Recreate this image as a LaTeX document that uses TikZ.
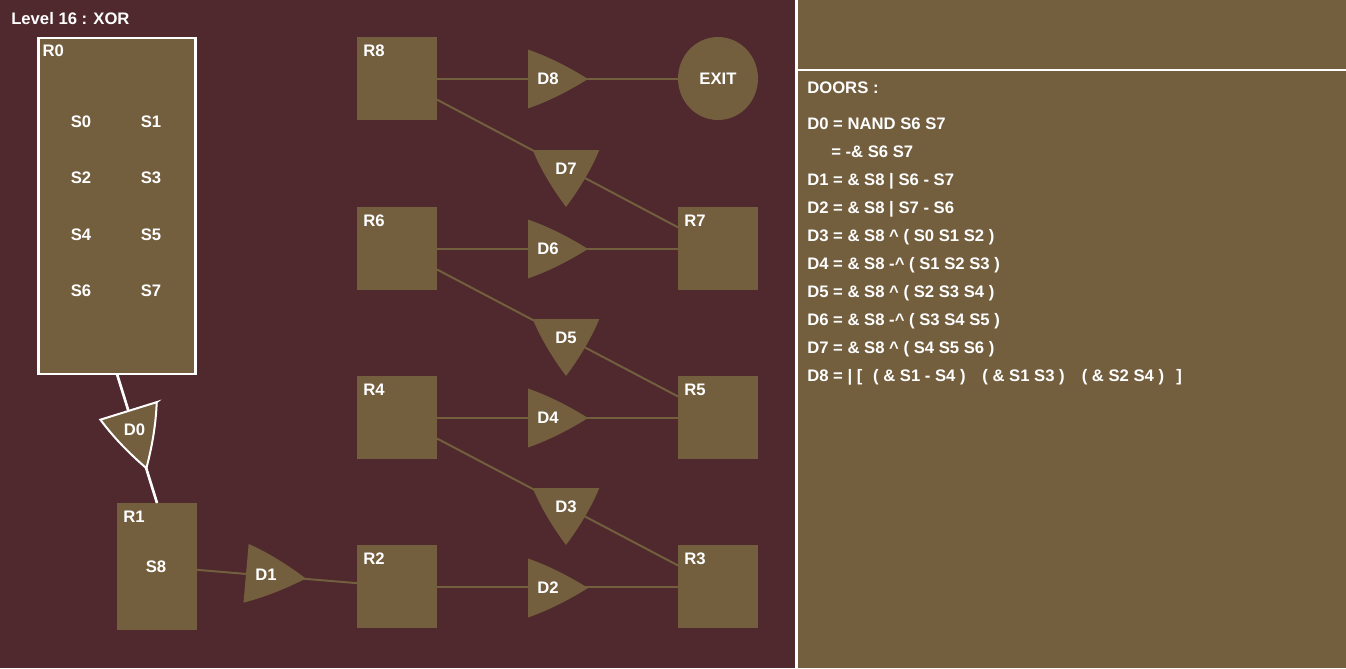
\documentclass[tikz,border=0pt]{standalone}
\usepackage{fontspec}
\setmainfont{Liberation Sans}
\usetikzlibrary{shapes.geometric,calc}
\definecolor{wallbg}{RGB}{79,41,45}
\definecolor{roombrown}{RGB}{115,94,62}
\tikzset{
room/.style={rectangle,fill=roombrown,minimum width=60pt,minimum height=62.25pt,inner sep=0pt,outer sep=0pt},
exitroom/.style={ellipse,fill=roombrown,minimum width=60pt,minimum height=62.25pt,inner sep=0pt},
roomlabel/.style={anchor=base west,inner sep=0pt},
doorlabel/.style={inner sep=0pt},
doorshape/.style={fill=roombrown},
wire/.style={roombrown,line width=1.5pt},
whitewire/.style={white,line width=2pt},
paneltext/.style={anchor=base west,inner sep=0pt},
pics/door/.style={code={
  \path[doorshape] (-20,-29.5) -- (-20,29.5)
    .. controls (0,22.5) and (20,12.5) .. (40,0)
    .. controls (20,-12.5) and (0,-22.5) .. cycle;
  \node[doorlabel] (-lbl) at (0,0) {#1};
}},
}
\tikzstyle{every node}=[font=\bfseries\fontsize{12.5}{15}\selectfont,text=white]

\begin{document}
\begin{tikzpicture}[x=0.75pt,y=-0.75pt]
    \useasboundingbox (0,0) rectangle (1346,668);
    % background and side panel
    \fill[wallbg] (0,0) rectangle (796,668);
    \fill[roombrown] (796,0) rectangle (1346,668);
    \draw[white,line width=2.25pt] (796,0) -- (796,668);
    \draw[white,line width=1.75pt] (796,70) -- (1346,70);

    \node[anchor=base west,inner sep=0pt] (title) at (11,24) {Level 16 : XOR};

    % rooms
    \node[room,draw=white,line width=2pt,minimum width=118pt,minimum height=252pt] (r0) at (117,206) {};
    \node[room,minimum height=95.25pt] (r1) at (157,566.5) {};
    \node[room] (r2) at (397,586.5) {};
    \node[room] (r3) at (718,586.5) {};
    \node[room] (r4) at (397,417.5) {};
    \node[room] (r5) at (718,417.5) {};
    \node[room] (r6) at (397,248.5) {};
    \node[room] (r7) at (718,248.5) {};
    \node[room] (r8) at (397,78.5) {};
    \node[exitroom] (exit) at (718,78.5) {EXIT};

    \node[roomlabel] (r0lbl) at ($(r0.north west)+(4,18)$) {R0};
    \node[roomlabel] (r1lbl) at ($(r1.north west)+(6,19)$) {R1};
    \node[roomlabel] (r2lbl) at ($(r2.north west)+(6,19)$) {R2};
    \node[roomlabel] (r3lbl) at ($(r3.north west)+(6,19)$) {R3};
    \node[roomlabel] (r4lbl) at ($(r4.north west)+(6,19)$) {R4};
    \node[roomlabel] (r5lbl) at ($(r5.north west)+(6,19)$) {R5};
    \node[roomlabel] (r6lbl) at ($(r6.north west)+(6,19)$) {R6};
    \node[roomlabel] (r7lbl) at ($(r7.north west)+(6,19)$) {R7};
    \node[roomlabel] (r8lbl) at ($(r8.north west)+(6,19)$) {R8};

    % switches
    \foreach \i/\px/\py in {0/81/122,1/151/122,2/81/178,3/151/178,4/81/235,5/151/235,6/81/291,7/151/291}
        \node (s\i) at (\px,\py) {S\i};
    \node (s8) at (156,567) {S8};

    % connections
    \draw[whitewire] (r0.south) -- (r1.north);
    \draw[wire] (r1) -- (r2);
    \draw[wire] (r2) -- (r3);
    \draw[wire] (r4) -- (r3);
    \draw[wire] (r4) -- (r5);
    \draw[wire] (r6) -- (r5);
    \draw[wire] (r6) -- (r7);
    \draw[wire] (r8) -- (r7);
    \draw[wire] (r8) -- (exit);

    % doors
    \pic[rotate=-72.7,doorshape/.append style={draw=white,line width=1.5pt}] (d0) at (134.5,430) {door=D0};
    \pic[rotate=-5] (d1) at (266,575) {door=D1};
    \pic (d2) at (548,588) {door=D2};
    \pic[rotate=-90,xscale=.95,yscale=1.13] (d3) at (566,507) {door=D3};
    \pic (d4) at (548,418) {door=D4};
    \pic[rotate=-90,xscale=.95,yscale=1.13] (d5) at (566,338) {door=D5};
    \pic (d6) at (548,249) {door=D6};
    \pic[rotate=-90,xscale=.95,yscale=1.13] (d7) at (566,169) {door=D7};
    \pic (d8) at (548,79) {door=D8};

    % door list
    \node[paneltext] (doors) at (807,93) {DOORS :};
    \node[paneltext] (def0) at (807,129) {D0 = NAND S6 S7};
    \node[paneltext] (alt0) at (831,157) {= -\& S6 S7};
    \node[paneltext] (def1) at (807,185) {D1 = \& S8 | S6 - S7};
    \node[paneltext] (def2) at (807,213) {D2 = \& S8 | S7 - S6};
    \node[paneltext] (def3) at (807,241) {D3 = \& S8 \^{} ( S0 S1 S2 )};
    \node[paneltext] (def4) at (807,269) {D4 = \& S8 -\^{} ( S1 S2 S3 )};
    \node[paneltext] (def5) at (807,297) {D5 = \& S8 \^{} ( S2 S3 S4 )};
    \node[paneltext] (def6) at (807,325) {D6 = \& S8 -\^{} ( S3 S4 S5 )};
    \node[paneltext] (def7) at (807,353) {D7 = \& S8 \^{} ( S4 S5 S6 )};
    \node[paneltext] (def8) at (807,381) {D8 = | [\hspace{8pt}( \& S1 - S4 )\hspace{12.5pt}( \& S1 S3 )\hspace{12.75pt}( \& S2 S4 )\hspace{9.2pt}]};
\end{tikzpicture}
\end{document}
